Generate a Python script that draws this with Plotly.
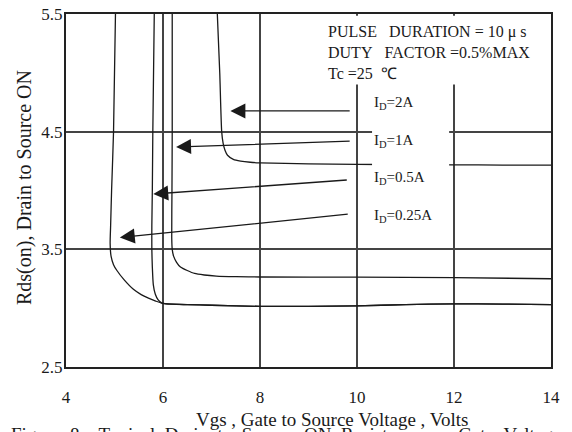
"""Typical drain-to-source ON resistance vs gate voltage (Figure 8)."""

import plotly.graph_objects as go

_FONT = "Liberation Serif, Times New Roman, serif"
_INK = "#1a1a1a"

# curves: Vgs (V) vs Rds(on)
vgs_2a = [7.12, 7.17, 7.21, 7.24, 7.28, 7.33, 7.45, 7.6, 7.8, 8.0, 9.0, 10.0, 11.0, 12.0, 13.0, 14.0]
rds_2a = [5.5, 5.0, 4.5, 4.40, 4.34, 4.30, 4.265, 4.25, 4.24, 4.235, 4.227, 4.222, 4.22, 4.218, 4.216, 4.215]

vgs_1a = [6.19, 6.19, 6.185, 6.18, 6.19, 6.22, 6.28, 6.36, 6.5, 6.65, 6.85, 7.1, 7.5, 8.0, 10.0, 12.0, 14.0]
rds_1a = [5.5, 4.5, 4.0, 3.6, 3.5, 3.44, 3.39, 3.35, 3.32, 3.295, 3.282, 3.273, 3.268, 3.265, 3.264, 3.26, 3.25]

vgs_05a = [5.82, 5.79, 5.78, 5.77, 5.77, 5.78, 5.80, 5.84, 5.90, 5.97, 6.05, 6.5, 7.0, 8.0, 9.0, 10.0, 11.0, 12.0, 13.0, 14.0]
rds_05a = [5.5, 4.5, 4.0, 3.7, 3.5, 3.35, 3.2, 3.12, 3.07, 3.045, 3.037, 3.03, 3.025, 3.015, 3.015, 3.02, 3.03, 3.037, 3.035, 3.03]

vgs_025a = [5.02, 4.98, 4.94, 4.92, 4.91, 4.93, 4.98, 5.05, 5.2, 5.39, 5.55, 5.7, 5.85, 6.0, 6.5, 7.0, 8.0, 9.0, 10.0, 11.0, 12.0, 13.0, 14.0]
rds_025a = [5.5, 4.5, 4.0, 3.7, 3.55, 3.44, 3.37, 3.32, 3.24, 3.16, 3.115, 3.085, 3.06, 3.04, 3.03, 3.025, 3.015, 3.015, 3.02, 3.03, 3.037, 3.035, 3.03]

curves = [(vgs_2a, rds_2a), (vgs_1a, rds_1a), (vgs_05a, rds_05a), (vgs_025a, rds_025a)]

# callout labels and their arrows (head points at the curve, tail sits near the label)
id_labels = ["I<sub>D</sub>=2A", "I<sub>D</sub>=1A", "I<sub>D</sub>=0.5A", "I<sub>D</sub>=0.25A"]
label_x = [10.31, 10.31, 10.31, 10.31]
label_y = [4.744, 4.422, 4.107, 3.785]
arrow_head_x = [7.39, 6.27, 5.80, 5.11]
arrow_head_y = [4.676, 4.37, 3.97, 3.60]
arrow_tail_x = [9.88, 9.88, 9.82, 9.84]
arrow_tail_y = [4.676, 4.42, 4.09, 3.80]

cond_lines = [
    "PULSE\u00a0\u00a0\u00a0DURATION\u00a0=\u00a010\u00a0\u03bc\u00a0s",
    "DUTY\u00a0\u00a0\u00a0FACTOR\u00a0=0.5%MAX",
    "Tc\u00a0=25\u00a0\u00a0\u2103",
]

caption_words = ["Figure", "8 .", "Typical", "Drain", "to", "Source", "ON", "Resistance", "vs", "Gate", "Voltage"]

x_ticks = [4, 6, 8, 10, 12, 14]
y_ticks = [2.5, 3.5, 4.5, 5.5]

_W, _H = 572, 432
_L, _R, _T, _B = 66, 551, 14, 367  # plot box in window pixels
_PW, _PH = _R - _L, _B - _T


def _px(x):
    return (x - _L) / _PW


def _py(y):
    return (_B - y) / _PH


fig = go.Figure()
for xs, ys in curves:
    fig.add_trace(
        go.Scatter(
            x=xs, y=ys, mode="lines",
            line={"color": _INK, "width": 1.3, "shape": "spline", "smoothing": 0.6},
            showlegend=False, hoverinfo="skip",
        )
    )

# white masks that break the grid behind the text block and the 1A label
fig.add_shape(type="rect", xref="x", yref="y", x0=9.24, x1=13.96, y0=4.9, y1=5.485,
              fillcolor="white", line_width=0, layer="above")
fig.add_shape(type="rect", xref="x", yref="y", x0=10.31, x1=11.9, y0=4.184, y1=4.55,
              fillcolor="white", line_width=0, layer="above")

for txt, lx, ly in zip(id_labels, label_x, label_y):
    fig.add_annotation(x=lx, y=ly, text=txt, showarrow=False, xanchor="left", yanchor="middle",
                       font={"family": _FONT, "size": 15, "color": _INK})

for hx, hy, tx, ty in zip(arrow_head_x, arrow_head_y, arrow_tail_x, arrow_tail_y):
    fig.add_annotation(x=hx, y=hy, ax=tx, ay=ty, axref="x", ayref="y", text="",
                       showarrow=True, arrowhead=2, arrowsize=2.3, arrowwidth=1.3,
                       arrowcolor=_INK, standoff=0)

fig.add_annotation(x=_px(326), y=_py(21), xref="paper", yref="paper",
                   text="<br>".join(cond_lines), showarrow=False, align="left",
                   xanchor="left", yanchor="top",
                   font={"family": _FONT, "size": 16, "color": _INK})

# axis titles and the cut-off figure caption
fig.add_annotation(x=_px(332), y=_py(419), xref="paper", yref="paper",
                   text="Vgs , Gate to Source Voltage , Volts", showarrow=False,
                   xanchor="center", yanchor="middle",
                   font={"family": _FONT, "size": 19, "color": _INK})
fig.add_annotation(x=_px(24), y=_py(188), xref="paper", yref="paper",
                   text="Rds(on), Drain to Source ON", showarrow=False, textangle=-90,
                   xanchor="center", yanchor="middle",
                   font={"family": _FONT, "size": 20, "color": _INK})
fig.add_annotation(x=_px(286), y=_py(422), xref="paper", yref="paper",
                   text="\u00a0\u00a0".join(caption_words),
                   showarrow=False, xanchor="center", yanchor="top",
                   font={"family": _FONT, "size": 19, "color": _INK})

axis_common = dict(
    showline=True, mirror=True, linecolor="#222", linewidth=2,
    showgrid=True, gridcolor="#444", gridwidth=1.5, zeroline=False,
    ticklabeloverflow="allow", automargin=False,
    tickfont={"family": _FONT, "size": 17, "color": _INK},
)
fig.update_xaxes(range=[4, 14], tickvals=x_ticks, ticks="", ticklabelstandoff=14, **axis_common)
fig.update_yaxes(range=[2.5, 5.5], tickvals=y_ticks, ticks="", ticklabelstandoff=-2, **axis_common)

fig.update_layout(
    width=_W, height=_H,
    margin={"l": _L, "r": _W - _R, "t": _T, "b": _H - _B},
    paper_bgcolor="white", plot_bgcolor="white",
    showlegend=False,
)
# drop the browser's default body margin so the figure sits at the window's corner
fig.write_html(
    "out.html",
    config={"displayModeBar": False},
    post_script="document.body.style.margin = '0';",
)
